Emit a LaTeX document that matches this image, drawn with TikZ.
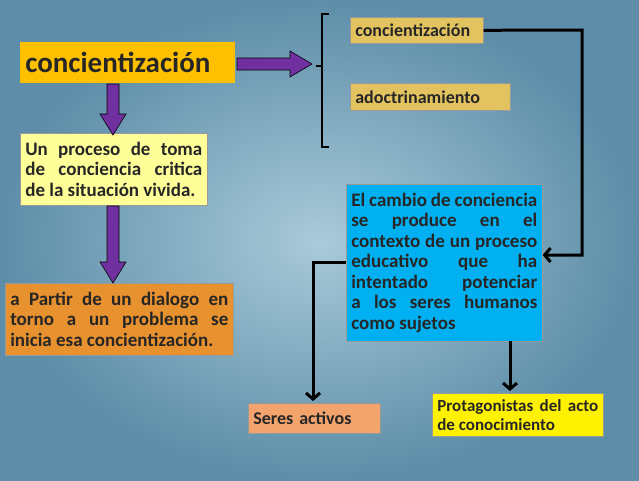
\documentclass[tikz,border=0pt]{standalone}
\usepackage{fontspec}
\setmainfont{Carlito}
\usetikzlibrary{arrows.meta}
\lefthyphenmin=64
\righthyphenmin=64
\tolerance=9999
\definecolor{bgin}{HTML}{A9CAD9}
\definecolor{bgout}{HTML}{5D8DA8}
\definecolor{purp}{HTML}{7030A0}
\definecolor{tan}{HTML}{E3C35F}
\definecolor{lyel}{HTML}{FFFF99}
\definecolor{orng}{HTML}{E8912F}
\definecolor{sky}{HTML}{00B0F0}
\definecolor{peach}{HTML}{F3A36C}
\definecolor{gold}{HTML}{FFC000}
\tikzset{
 box/.style={draw=black!40,line width=0.6pt,inner sep=5pt,font=\bfseries\fontsize{18}{20}\selectfont,text=black!85},
 jbox/.style={box,align=justify,font=\bfseries\fontsize{19}{20.5}\selectfont},
 conn/.style={draw=black,line width=3pt,-{Straight Barb[length=6pt,width=14pt,line width=3pt]}},
 fat/.style={draw=black,line width=0.6pt,fill=purp}
}
\begin{document}
\begin{tikzpicture}[x=1pt,y=-1pt]
\shade[inner color=bgin,outer color=bgout] (0,0) rectangle (639,480);
\useasboundingbox (0,0) rectangle (639,480);
% boxes
\node[box,fill=gold,draw=none,minimum width=215,minimum height=41,anchor=north west,text width=205,font=\bfseries\fontsize{29}{32}\selectfont] (main) at (20,42) {concientización};
\node[box,fill=tan,anchor=north west,minimum width=133,minimum height=26,text width=123] (a1) at (350,17) {concientización};
\node[box,fill=tan,anchor=north west,minimum width=160,minimum height=27,text width=150] (a2) at (350,83) {adoctrinamiento};
\node[jbox,fill=lyel,anchor=north west,text width=177,minimum height=72] (y) at (20,133) {Un proceso de toma de conciencia critica de la situación vivida.};
\node[jbox,fill=orng,anchor=north west,text width=218,minimum height=72] (o) at (5,283) {a Partir de un dialogo en torno a un problema se inicia esa concientización.};
\node[jbox,fill=sky,anchor=north west,text width=186,minimum height=157] (b) at (346,184) {El cambio de conciencia se produce en el contexto de un proceso educativo que ha intentado potenciar a los seres humanos como sujetos};
\node[box,fill=peach,anchor=north west,text width=122,minimum height=30] (s) at (248,403) {Seres activos};
\node[box,fill=yellow,anchor=north west,text width=161,minimum height=43,font=\bfseries\fontsize{17}{19}\selectfont,align=justify] (p) at (432,393) {Protagonistas del acto de conocimiento};
% purple fat arrows
\path[fat] (237,58) -- (290,58) -- (290,51) -- (312,64) -- (290,77) -- (290,70) -- (237,70) -- cycle;
\path[fat] (107,84) -- (119,84) -- (119,114) -- (126,114) -- (113,135) -- (100,114) -- (107,114) -- cycle;
\path[fat] (107,206) -- (119,206) -- (119,262) -- (126,262) -- (113,283) -- (100,262) -- (107,262) -- cycle;
% brace
\coordinate (bt) at (329,14);
\coordinate (bb) at (329,147);
\draw[line width=2.5pt] (bt) -- (322,14) -- (322,147) -- (bb);
\draw[line width=2.5pt] (316,66) -- (322,66);
% black connectors
\draw[conn] (a1.east) -- (582,30) |- (b.east |- 0,255);
\draw[conn] (b.west |- 0,262) -- (313,262) -- (313,401);
\draw[conn] (510,341) -- (510,391);
\end{tikzpicture}
\end{document}
